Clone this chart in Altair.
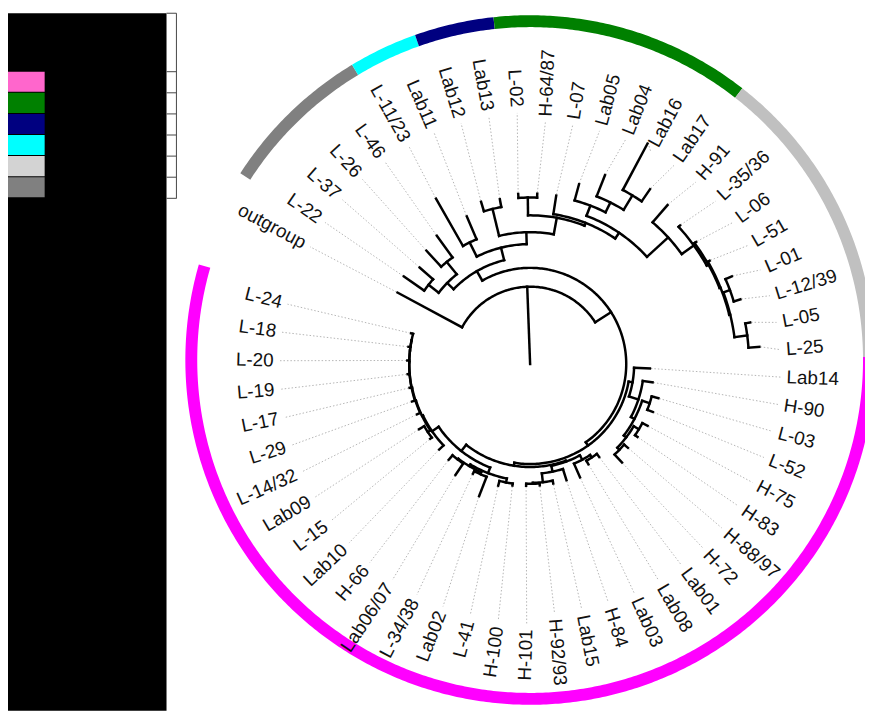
import math
import altair as alt
import pandas as pd

# ---------------- data ----------------
LEAVES = [
    "outgroup", "L-22", "L-37", "L-26", "L-46", "L-11/23", "Lab11", "Lab12", "Lab13",
    "L-02", "H-64/87", "L-07", "Lab05", "Lab04", "Lab16", "Lab17", "H-91", "L-35/36",
    "L-06", "L-51", "L-01", "L-12/39", "L-05", "L-25", "Lab14", "H-90", "L-03", "L-52",
    "H-75", "H-83", "H-88/97", "H-72", "Lab01", "Lab08", "Lab03", "H-84", "Lab15",
    "H-92/93", "H-101", "H-100", "L-41", "Lab02", "L-34/38", "Lab06/07", "H-66", "Lab10",
    "L-15", "Lab09", "L-14/32", "L-29", "L-17", "L-19", "L-20", "L-18", "L-24",
]

# internal node = (radius, [children]);  leaf = (name, tip radius)
TREE = (78, [
    ("outgroup", 152),
    (97, [
        (108, [
            (117, [
                (130, [("L-22", 155), ("L-37", 148)]),
                (133, [("L-26", 155), ("L-46", 160)]),
            ]),
            (121, [
                (137, [("L-11/23", 192), ("Lab11", 162)]),
                (133, [
                    (161, [("Lab12", 171), ("Lab13", 169)]),
                    (150, [
                        (168, [("L-02", 172), ("H-64/87", 172)]),
                        (153, [
                            ("L-07", 172),
                            (160, [
                                (171, [("Lab05", 188),
                                       (182, [("Lab04", 205),
                                              (199, [("Lab16", 252), ("Lab17", 214)])])]),
                                (189, [("H-91", 212),
                                       (204, [("L-35/36", 206),
                                              (206, [("L-06", 208),
                                                     (207, [("L-51", 209),
                                                            (208, [(215, [("L-01", 222), ("L-12/39", 222)]),
                                                                   (221, [("L-05", 226), ("L-25", 232)])])])])])]),
                            ]),
                        ]),
                    ]),
                ]),
            ]),
        ]),
        (101, [
            (105, [("Lab14", 121),
                   (115, [("H-90", 125),
                          (119, [(127, [("L-03", 134), ("L-52", 133)]),
                                 (122, [(128, [("H-75", 134), ("H-83", 131)]),
                                        (125, [("H-88/97", 130), ("H-72", 136)])])])])]),
            (104, [
                (105, [
                    (110, [(113, [("Lab01", 117), ("Lab08", 117)]), ("Lab03", 125)]),
                    (111, [("H-84", 123),
                           (120, [("Lab15", 123),
                                  (121, [("H-92/93", 123), ("H-101", 123)])])]),
                ]),
                (112, [
                    (118, [
                        (122, [("H-100", 124), ("L-41", 127)]),
                        (120, [(122, [("Lab02", 143), ("L-34/38", 125)]),
                               (121, [("Lab06/07", 135), ("H-66", 127)])]),
                    ]),
                    (120, [("Lab10", 126),
                           (121, [(124, [("L-15", 126), ("Lab09", 130)]),
                                  (121.5, [("L-14/32", 125),
                                           (122, [("L-29", 125),
                                                  (122, [("L-17", 124),
                                                         (122, [("L-19", 124),
                                                                (122, [("L-20", 124),
                                                                       (122, [("L-18", 124), ("L-24", 124)])])])])])])])]),
                ]),
            ]),
        ]),
    ]),
])

RING_NAMES = ["grey", "cyan", "navy", "green", "silver", "magenta"]
RING_FROM = [147.2, 121.1, 109.5, 96.1, 52.0, 0.5]
RING_TO = [121.1, 109.5, 96.1, 52.0, 0.5, -196.1]
RING_COLORS = ["#808080", "#00FFFF", "#000080", "#008000", "#C0C0C0", "#FF00FF"]

LEGEND_COLORS = ["#FF66CC", "#008000", "#000080", "#00FFFF", "#D3D3D3", "#808080"]

# ---------------- geometry (page pixels) ----------------
TREE_C = (535.0, 364.0)
LABEL_C = (540.0, 368.0)
RING_C = (535.0, 360.0)
START, STEP = 151.7, 6.41
LABEL_R_RIGHT, LABEL_R_LEFT, RING_R = 254, 264, 342


def pt(r, a, c=TREE_C):
    t = math.radians(a)
    return c[0] + r * math.cos(t), c[1] - r * math.sin(t)


def arc_pts(r, a0, a1, step=1.0, c=TREE_C):
    n = max(2, int(abs(a1 - a0) / step) + 2)
    return [pt(r, a0 + (a1 - a0) * k / (n - 1), c) for k in range(n)]


tree_rows, leader_rows, ring_rows = [], [], []
counter = [0]


def add_seg(points, table, extra=None):
    sid = counter[0]
    counter[0] += 1
    for k, (x, y) in enumerate(points):
        row = {"seg": sid, "ord": k, "x": x, "y": y}
        if extra:
            row.update(extra)
        table.append(row)


leaf_angle = {n: START - i * STEP for i, n in enumerate(LEAVES)}
tips = {}


def layout(node, parent_r):
    if isinstance(node[0], str):
        name, tip = node
        a = leaf_angle[name]
        add_seg([pt(parent_r, a), pt(tip, a)], tree_rows)
        tips[name] = tip
        return a
    r, kids = node
    angs = [layout(k, r) for k in kids]
    add_seg(arc_pts(r, angs[0], angs[-1]), tree_rows)
    a = (angs[0] + angs[-1]) / 2
    add_seg([pt(parent_r, a), pt(r, a)], tree_rows)
    return a


layout(TREE, 0)

label_rows = []
for name in LEAVES:
    a = leaf_angle[name]
    right = math.cos(math.radians(a)) >= 0
    lr = LABEL_R_RIGHT if right else LABEL_R_LEFT
    add_seg([pt(tips[name] + 1, a), pt(lr - 6, a, LABEL_C)], leader_rows)
    x, y = pt(lr, a, LABEL_C)
    rot = (-a) % 360 if right else (-(a + 180)) % 360
    label_rows.append({"name": name, "x": x, "y": y, "rot": rot,
                       "side": "right" if right else "left"})

for g, a0, a1 in zip(RING_NAMES, RING_FROM, RING_TO):
    add_seg(arc_pts(RING_R, a0, a1, 0.5, RING_C), ring_rows, {"grp": g})

tree_df = pd.DataFrame(tree_rows)
leader_df = pd.DataFrame(leader_rows)
ring_df = pd.DataFrame(ring_rows)
lab_df = pd.DataFrame(label_rows)

# legend block on the left
legend_box = pd.DataFrame([{"x": 8, "x2": 168, "y": 10, "y2": 714}])
sw_rows = []
for i, c in enumerate(LEGEND_COLORS):
    sw_rows.append({"x": 8, "x2": 45, "y": 69 + i * 21.3, "y2": 69 + (i + 1) * 21.3 - 1, "c": c})
sw_df = pd.DataFrame(sw_rows)
grid_rows = [{"x": 168, "x2": 178, "y": 10, "y2": 10}]
for i in range(7):
    yy = 69 + i * 21.3
    grid_rows.append({"x": 168, "x2": 178, "y": yy, "y2": yy})
grid_rows.append({"x": 178, "x2": 178, "y": 10, "y2": 197})
grid_df = pd.DataFrame(grid_rows)

XS = alt.Scale(domain=[8, 873], nice=False, zero=False)
YS = alt.Scale(domain=[8, 714], nice=False, zero=False, reverse=True)


def X(f="x"):
    return alt.X(f + ":Q", scale=XS, axis=None)


def Y(f="y"):
    return alt.Y(f + ":Q", scale=YS, axis=None)


ring = alt.Chart(ring_df).mark_line(strokeWidth=12, strokeCap="butt").encode(
    x=X(), y=Y(), detail="seg:N", order="ord:Q",
    color=alt.Color("grp:N", scale=alt.Scale(domain=RING_NAMES, range=RING_COLORS), legend=None),
)

leaders = alt.Chart(leader_df).mark_line(strokeWidth=1, color="#b5b5b5", strokeDash=[1.5, 2]).encode(
    x=X(), y=Y(), detail="seg:N", order="ord:Q")

tree = alt.Chart(tree_df).mark_line(strokeWidth=2.5, color="#000000", strokeCap="square",
                                    strokeJoin="miter").encode(
    x=X(), y=Y(), detail="seg:N", order="ord:Q")

font = dict(font="Liberation Sans", fontSize=19, color="#111111", baseline="middle")
lab_r = alt.Chart(lab_df[lab_df.side == "right"]).mark_text(align="left", **font).encode(
    x=X(), y=Y(), text="name:N", angle=alt.Angle("rot:Q", scale=None))
lab_l = alt.Chart(lab_df[lab_df.side == "left"]).mark_text(align="right", **font).encode(
    x=X(), y=Y(), text="name:N", angle=alt.Angle("rot:Q", scale=None))

box = alt.Chart(legend_box).mark_rect(color="#000000").encode(x=X(), x2="x2:Q", y=Y(), y2="y2:Q")
sw = alt.Chart(sw_df).mark_rect().encode(
    x=X(), x2="x2:Q", y=Y(), y2="y2:Q", color=alt.Color("c:N", scale=None))
grid = alt.Chart(grid_df).mark_rule(color="#444444", strokeWidth=1).encode(
    x=X(), x2="x2:Q", y=Y(), y2="y2:Q")

chart = alt.layer(box, sw, grid, ring, leaders, tree, lab_r, lab_l).properties(
    width=865, height=706, padding=0, autosize="none"
).configure_view(stroke=None)

chart.save("out.html", embed_options={"renderer": "svg", "actions": False})
